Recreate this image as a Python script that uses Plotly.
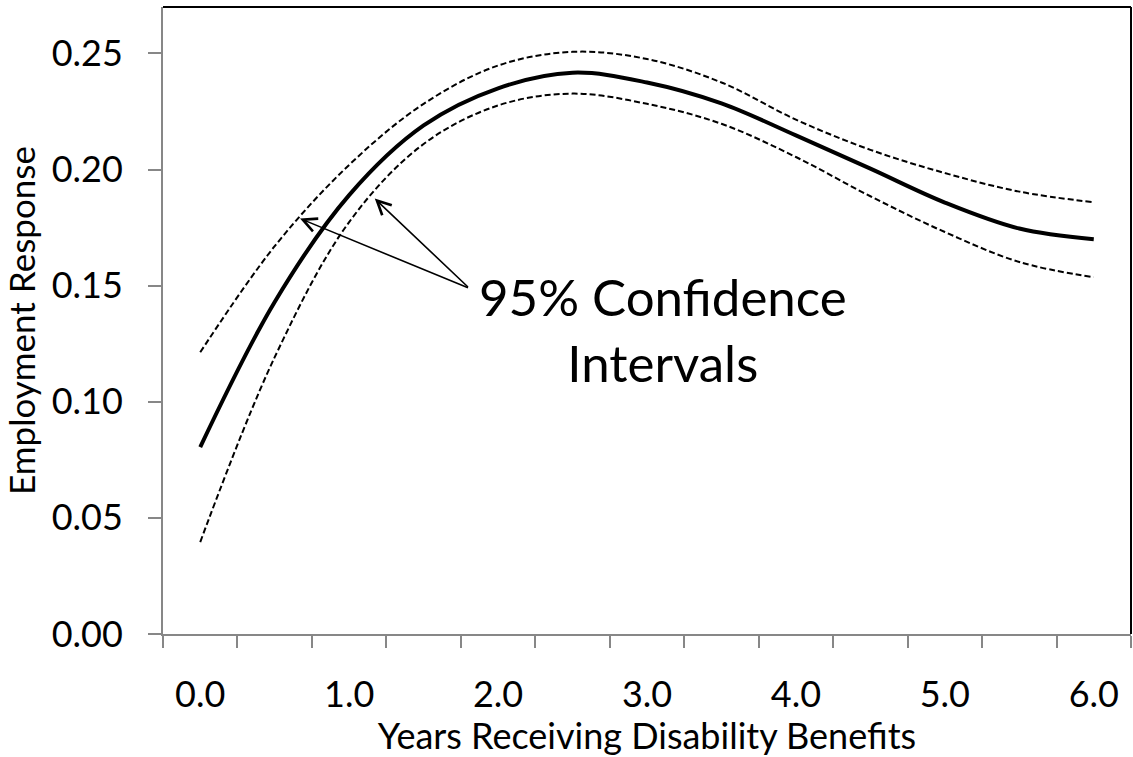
import plotly.graph_objects as go

# Years on disability benefits (half-year steps)
years = [0.0, 0.5, 1.0, 1.5, 2.0, 2.5, 3.0, 3.5, 4.0, 4.5, 5.0, 5.5, 6.0]
# Estimated employment response with 95% confidence bounds
response = [0.0805, 0.143, 0.189, 0.219, 0.235, 0.2417, 0.2375, 0.2285, 0.2147, 0.2004, 0.1858, 0.1746, 0.170]
upper_ci = [0.1213, 0.1670, 0.2020, 0.2283, 0.2448, 0.2507, 0.2476, 0.2375, 0.2215, 0.2085, 0.1985, 0.1905, 0.1859]
lower_ci = [0.0396, 0.1192, 0.1774, 0.2110, 0.2276, 0.2327, 0.2283, 0.2197, 0.2054, 0.1885, 0.1731, 0.1602, 0.1536]

x_tick_vals = [0, 1, 2, 3, 4, 5, 6]
x_tick_text = ["0.0", "1.0", "2.0", "3.0", "4.0", "5.0", "6.0"]
x_boundaries = [-0.25 + 0.5 * i for i in range(14)]
y_tick_vals = [0.0, 0.05, 0.10, 0.15, 0.20, 0.25]

FONT = "Lato"
AXIS_GRAY = "#878787"

fig = go.Figure()

for ci in (upper_ci, lower_ci):
    fig.add_trace(go.Scatter(
        x=years, y=ci, mode="lines",
        line=dict(color="black", width=2, dash="6px,3px", shape="spline", smoothing=1.0),
        showlegend=False, hoverinfo="skip",
    ))

fig.add_trace(go.Scatter(
    x=years, y=response, mode="lines",
    line=dict(color="black", width=4, shape="spline", smoothing=1.0),
    showlegend=False,
))

# Label with two arrows pointing at the confidence bands
label_x, label_y = 1.808, 0.1488
arrow_tips = [(0.67, 0.1789), (1.172, 0.1875)]
for tx, ty in arrow_tips:
    fig.add_annotation(
        x=tx, y=ty, ax=label_x, ay=label_y, axref="x", ayref="y",
        text="", showarrow=True, arrowhead=5, arrowsize=1.7, arrowwidth=1.6,
        arrowcolor="black",
    )

fig.add_annotation(
    x=3.11, y=0.1595, xref="x", yref="y", text="95% Confidence<br>Intervals",
    showarrow=False, font=dict(family=FONT, size=51, color="black"),
    align="center", xanchor="center", yanchor="top",
)

# Frame on the top and right of the plot area
fig.add_shape(type="line", xref="paper", yref="paper", x0=0, x1=1, y0=1, y1=1,
              line=dict(color="black", width=2))
fig.add_shape(type="line", xref="paper", yref="paper", x0=1, x1=1, y0=0, y1=1,
              line=dict(color="black", width=2))

fig.update_layout(
    width=1133, height=757,
    margin=dict(l=163, r=2, t=7, b=123),
    plot_bgcolor="white", paper_bgcolor="white",
    font=dict(family=FONT, color="black"),
    xaxis=dict(
        range=[-0.25, 6.25], showgrid=False, zeroline=False,
        showline=True, linecolor=AXIS_GRAY, linewidth=2,
        tickmode="array", tickvals=x_tick_vals, ticktext=x_tick_text,
        ticks="", tickfont=dict(size=36, family=FONT), ticklabelstandoff=28,
        minor=dict(tickmode="array", tickvals=x_boundaries, ticks="outside",
                   ticklen=12, tickcolor=AXIS_GRAY, tickwidth=2, showgrid=False),
        title=dict(text="Years Receiving Disability Benefits",
                   font=dict(size=36, family=FONT), standoff=2),
    ),
    yaxis=dict(
        range=[0, 0.27], showgrid=False, zeroline=False,
        showline=True, linecolor=AXIS_GRAY, linewidth=2,
        tickmode="array", tickvals=y_tick_vals, tickformat=".2f",
        ticks="outside", ticklen=13, tickcolor=AXIS_GRAY, tickwidth=2,
        tickfont=dict(size=36, family=FONT), ticklabelstandoff=18,
        title=dict(text="Employment Response",
                   font=dict(size=35, family=FONT), standoff=6),
    ),
)

fig.write_html("out.html")
